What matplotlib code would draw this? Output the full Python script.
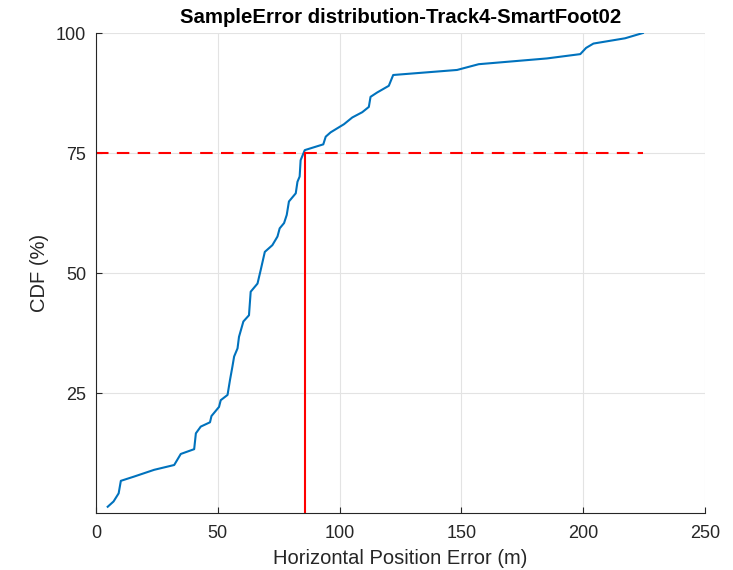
import matplotlib.pyplot as plt
import numpy as np

plt.rcParams['font.family'] = ['Liberation Sans', 'DejaVu Sans']

# error (m) vs CDF (%)
err = [4.8, 7.2, 9.3, 10.2, 15.7, 23.9, 32.1, 34.8, 40.3, 41.0, 43.0, 46.8, 47.4,
       50.5, 51.2, 54.0, 55.0, 56.0, 56.7, 58.1, 58.7, 60.5, 62.8, 63.5, 66.3,
       67.6, 69.3, 72.4, 74.5, 75.4, 77.2, 78.3, 79.2, 82.0, 82.7, 83.6, 84.0,
       85.7, 93.3, 94.3, 96.3, 101.8, 105.2, 109.3, 112.0, 112.7, 115.4, 120.2,
       122.0, 148.2, 157.1, 185.1, 198.8, 201.2, 204.2, 217.2, 224.5]
cdf = [1.3, 2.4, 4.1, 6.7, 7.6, 9.0, 10.0, 12.3, 13.3, 16.6, 18.0, 18.9, 20.2,
       22.1, 23.5, 24.6, 27.7, 30.5, 32.6, 34.3, 36.7, 39.9, 41.2, 46.1, 47.8,
       50.6, 54.4, 55.8, 57.6, 59.3, 60.4, 62.1, 64.9, 66.6, 69.0, 70.1, 73.5,
       75.6, 76.8, 78.4, 79.3, 81.0, 82.4, 83.5, 84.6, 86.7, 87.6, 89.0,
       91.25, 92.3, 93.5, 94.7, 95.6, 96.9, 97.8, 98.9, 100.0]
p75 = 75
err75 = 86.0

xticks = [0, 50, 100, 150, 200, 250]
yticks = [25, 50, 75, 100]

txt = '#262626'

fig = plt.figure(figsize=(7.33, 5.7), dpi=100)
ax = fig.add_axes([96/733, 57/570, 609/733, 480/570])

ax.plot(err, cdf, color='#0072BD', lw=1.5)
ax.plot([0, max(err)], [p75, p75], color='red', ls=(0, (6, 4)), lw=1.5)
ax.plot([err75, err75], [0, p75], color='red', lw=1.5)

ax.set_xlim(0, 250)
ax.set_ylim(0, 100)
ax.set_xticks(xticks)
ax.set_yticks(yticks)
ax.grid(True, color='#e3e3e3', lw=0.8)
ax.set_axisbelow(True)
for s in ['top', 'right']:
    ax.spines[s].set_visible(False)
for s in ['left', 'bottom']:
    ax.spines[s].set_color(txt)
    ax.spines[s].set_linewidth(0.8)
ax.tick_params(direction='in', length=4, colors=txt, labelsize=13)
ax.tick_params(axis='y', pad=7)
ax.tick_params(axis='x', pad=9)

ax.set_xlabel('Horizontal Position Error (m)', fontsize=14.5, color=txt, labelpad=5)
ax.set_ylabel('CDF (%)', fontsize=14.5, color=txt, labelpad=5)
ax.set_title('SampleError distribution-Track4-SmartFoot02', fontsize=14.7,
             fontweight='bold', color='black', pad=7)

fig.savefig('out.png', dpi=100)
